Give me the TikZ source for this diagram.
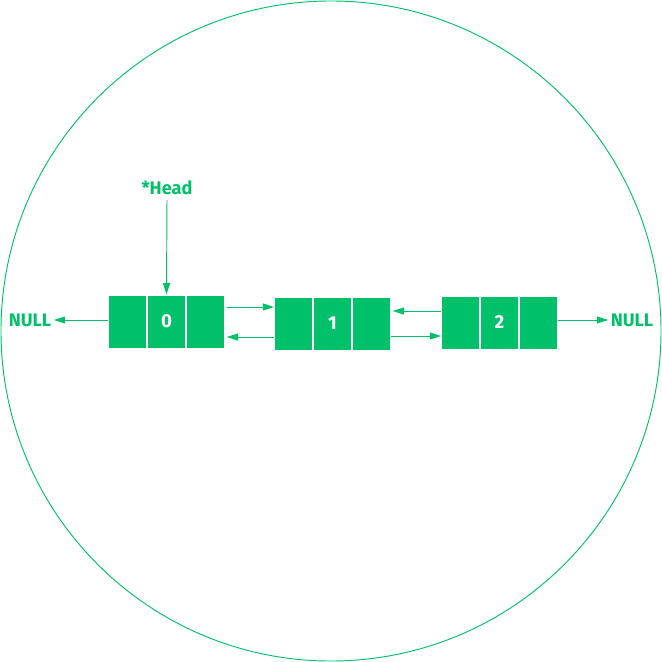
\documentclass[tikz,border=0pt]{standalone}
\usepackage{fontspec}
\setmainfont{Fira Sans}
\usetikzlibrary{positioning}
\usetikzlibrary{arrows.meta}
\usetikzlibrary{calc}
\definecolor{listgreen}{RGB}{0,193,106}
\begin{document}
\begin{tikzpicture}[x=0.03cm, y=-0.03cm, node distance=0pt,
    cell/.style={draw=white, line width=0.8pt, fill=listgreen, minimum width=1.14cm, minimum height=1.59cm, inner sep=0pt, text=white, font=\fontsize{16}{18}\selectfont\bfseries},
    label/.style={text=listgreen, inner sep=2pt, font=\fontsize{15.5}{18}\selectfont\bfseries},
    link/.style={draw=listgreen, line width=0.8pt, -{Triangle[length=3.4mm, width=2.1mm]}}]
            \useasboundingbox (0,0) rectangle (662,662);
            \draw[listgreen, line width=0.8pt] (331,331) circle[radius=9.9cm];

            % node 0
            \node[cell] (zeroval) at (166.5,321.5) {0};
            \node[cell, left=of zeroval] (zeroprev) {};
            \node[cell, right=of zeroval] (zeronext) {};
            % node 1
            \node[cell] (oneval) at (332.5,323.5) {1};
            \node[cell, left=of oneval] (oneprev) {};
            \node[cell, right=of oneval] (onenext) {};
            % node 2
            \node[cell] (twoval) at (499.5,322.5) {2};
            \node[cell, left=of twoval] (twoprev) {};
            \node[cell, right=of twoval] (twonext) {};

            \node[label] (head) at (167,188) {*Head};
            \node[label] (nullleft) at (30,320) {NULL};
            \node[label] (nullright) at (632,320) {NULL};

            \draw[link, shorten <=2pt] (head.south) -- (zeroval.north);
            \draw[link] (zeroprev.west |- nullleft) -- (nullleft.east);
            \draw[link] (twonext.east |- nullright) -- (nullright.west);

            \draw[link, shorten <=1.5pt] ($(zeronext.east)+(0,-14.5)$) -- (oneprev.west |- 0,307);
            \draw[link, shorten >=1.5pt] (oneprev.west |- 0,337) -- ($(zeronext.east)+(0,15.5)$);
            \draw[link, shorten >=1.5pt] (twoprev.west |- 0,311) -- (onenext.east |- 0,311);
            \draw[link] (onenext.east |- 0,336) -- (twoprev.west |- 0,336);
        \end{tikzpicture}
\end{document}
